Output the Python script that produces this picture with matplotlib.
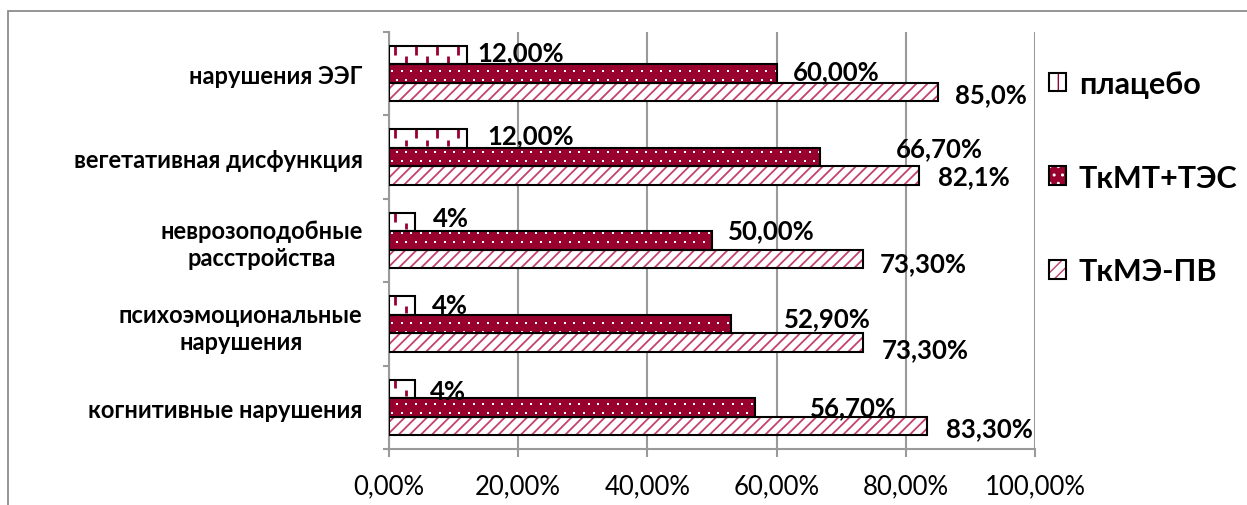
import matplotlib
matplotlib.use("Agg")
import matplotlib.pyplot as plt
import numpy as np
from matplotlib.patches import Rectangle, Patch
from matplotlib.collections import LineCollection
from matplotlib.legend_handler import HandlerTuple
from matplotlib.ticker import FuncFormatter, FixedLocator

# ---- data -------------------------------------------------------------
categories = [
    "когнитивные нарушения",
    "психоэмоциональные\nнарушения",
    "неврозоподобные\nрасстройства",
    "вегетативная дисфункция",
    "нарушения ЭЭГ",
]
series_names = ["плацебо", "ТкМТ+ТЭС", "ТкМЭ-ПВ"]
placebo = [4, 4, 4, 12, 12]
tkmt_tes = [56.7, 52.9, 50.0, 66.7, 60.0]
tkme_pv = [83.3, 73.3, 73.3, 82.1, 85.0]
placebo_labels = ["4%", "4%", "4%", "12,00%", "12,00%"]
tkmt_tes_labels = ["56,70%", "52,90%", "50,00%", "66,70%", "60,00%"]
tkme_pv_labels = ["83,30%", "73,30%", "73,30%", "82,1%", "85,0%"]
x_ticks = [0, 20, 40, 60, 80, 100]

# ---- label placement (pixel offsets from the bar end / bar centre) ----
placebo_offsets = [(15, -2), (17, 0), (18, 4), (21, 3), (11, 3.5)]
tkmt_offsets = [(55, 0), (53, 5.5), (16, 10), (76, 8.5), (16, 3)]
tkme_offsets = [(19, -2), (19, -7), (17, -4.5), (19, -1), (17, -1.5)]

CRIMSON = "#98002E"
STRIPE = "#C4426F"
GRID = "#9A9A9A"

plt.rcParams["font.family"] = ["Lato", "DejaVu Sans"]

W, H = 1247, 506
fig = plt.figure(figsize=(W / 100, H / 100), dpi=100)
AX_L, AX_R, AX_T, AX_B = 389, 1035, 33, 450
ax = fig.add_axes([AX_L / W, 1 - AX_B / H, (AX_R - AX_L) / W, (AX_B - AX_T) / H])

# outer chart frame
fig.patches.append(Rectangle((8 / W, -0.1), 1.2, 1 - 12 / H + 0.1,
                             transform=fig.transFigure, fill=False,
                             edgecolor="#8C8C8C", linewidth=1.3, zorder=0))

y = np.arange(len(categories))
h = 0.222
offs = [h, 0.0, -h]

ax.set_xlim(0, 100)
ax.set_ylim(-0.5, len(categories) - 0.5)
px_x = 100 / (AX_R - AX_L)                    # data units per pixel, x
px_y = len(categories) / (AX_B - AX_T)        # data units per pixel, y


def framed_bars(values, dy, face, hatch=None, hatch_color="none", hatch_lw=1.0):
    with plt.rc_context({"hatch.linewidth": hatch_lw}):
        fill = ax.barh(y + dy, values, height=h, color=face,
                       edgecolor=hatch_color, hatch=hatch, linewidth=0, zorder=3)
    border = ax.barh(y + dy, values, height=h, fill=False,
                     edgecolor="black", linewidth=1.5, zorder=4)
    return fill, border


# placebo: white with short crimson vertical dashes
pl_fill, pl_border = framed_bars(placebo, offs[0], "white")
seg = []
xs = np.arange(6 * px_x, 100, 10.5 * px_x)
for yc in y + offs[0]:
    for k, xv in enumerate(xs):
        if k % 2 == 0:
            seg.append([(xv, yc + h * 0.5), (xv, yc + h * 0.02)])
        else:
            seg.append([(xv, yc - h * 0.05), (xv, yc - h * 0.4)])
for bar in pl_fill.patches:
    lc = LineCollection(seg, colors=CRIMSON, linewidths=2.0, zorder=3.5)
    ax.add_collection(lc)
    lc.set_clip_path(bar)

# ТкМТ+ТЭС: crimson with small white dots on a staggered grid
mt_fill, mt_border = framed_bars(tkmt_tes, offs[1], CRIMSON)
dot_x, dot_y = [], []
rows = np.arange(-0.5, len(categories) - 0.5, 9 * px_y)
for r, yr in enumerate(rows):
    shift = 0 if r % 2 == 0 else 4.8 * px_x
    cols = np.arange(3 * px_x + shift, 100, 9.6 * px_x)
    dot_x.extend(cols)
    dot_y.extend([yr] * len(cols))
for bar in mt_fill.patches:
    sc = ax.scatter(dot_x, dot_y, s=3.2, marker="s", c="white",
                    linewidths=0, zorder=3.5)
    sc.set_clip_path(bar)

# ТкМЭ-ПВ: white with crimson diagonal stripes
me_fill, me_border = framed_bars(tkme_pv, offs[2], "white", "///", STRIPE, 1.3)

# value labels
for vals, labs, offsets, dy in [(placebo, placebo_labels, placebo_offsets, offs[0]),
                                (tkmt_tes, tkmt_tes_labels, tkmt_offsets, offs[1]),
                                (tkme_pv, tkme_pv_labels, tkme_offsets, offs[2])]:
    for i, (v, lab, (ox, oy)) in enumerate(zip(vals, labs, offsets)):
        ax.annotate(lab, (v, y[i] + dy), xytext=(ox, oy),
                    textcoords="offset pixels", ha="left", va="center",
                    fontsize=18.5, fontweight="bold", color="black", zorder=6)

# axes styling
for s in ("top", "right"):
    ax.spines[s].set_visible(False)
for s in ("left", "bottom"):
    ax.spines[s].set_color(GRID)
    ax.spines[s].set_linewidth(1.5)

ax.xaxis.set_major_locator(FixedLocator(x_ticks))
ax.xaxis.set_major_formatter(FuncFormatter(lambda v, p: f"{v:.2f}%".replace(".", ",")))
ax.tick_params(axis="x", length=5.8, width=1.5, color=GRID, labelsize=18.5, pad=12)
ax.grid(axis="x", color=GRID, linewidth=1.5, zorder=1)
ax.set_axisbelow(True)

ax.set_yticks(y)
ax.set_yticklabels(categories)
ax.yaxis.set_minor_locator(FixedLocator(np.arange(-0.5, len(categories), 1.0)))
ax.tick_params(axis="y", which="major", length=0, pad=19, labelsize=17)
ax.tick_params(axis="y", which="minor", length=4.3, width=1.5, color=GRID)
for t in ax.get_yticklabels():
    t.set_fontweight("bold")
    t.set_multialignment("center")
    t.set_linespacing(1.2)

# legend with pattern swatches
pl_h = Patch(facecolor="white", edgecolor=CRIMSON, hatch="|", linewidth=0)
with plt.rc_context({"hatch.linewidth": 2.0}):
    mt_h = Patch(facecolor=CRIMSON, edgecolor="white", hatch="..", linewidth=0)
me_h = Patch(facecolor="white", edgecolor=STRIPE, hatch="///", linewidth=0)
handles = [(p, Patch(fill=False, edgecolor="black", linewidth=1.5))
           for p in (pl_h, mt_h, me_h)]
fig.legend(handles, series_names, handler_map={tuple: HandlerTuple(ndivide=1, pad=0)},
           loc="center left", bbox_to_anchor=(1037 / W, 1 - 178.5 / H),
           frameon=False, prop={"size": 22, "weight": "bold"},
           handlelength=0.55, handleheight=0.55, handletextpad=0.42,
           labelspacing=2.15, borderaxespad=0)

fig.savefig("out.png", dpi=100)
